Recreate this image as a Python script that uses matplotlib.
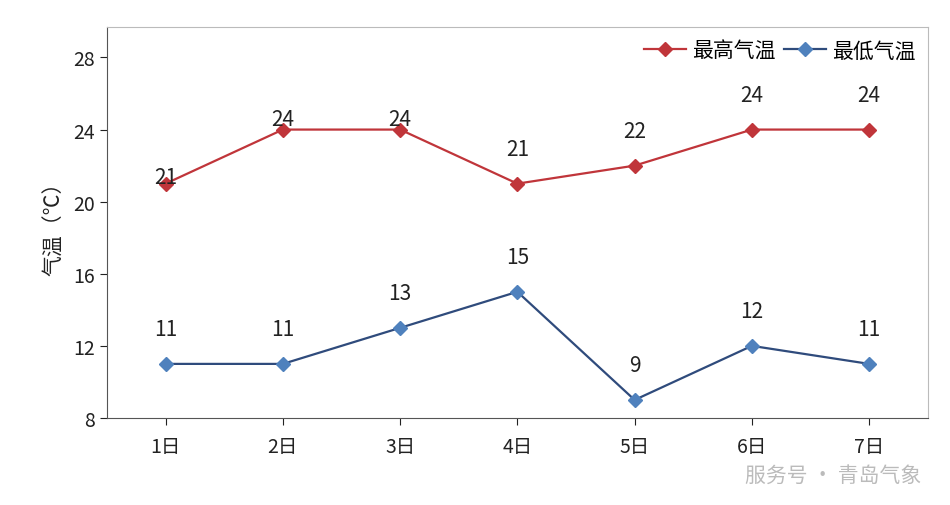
import matplotlib
matplotlib.use("Agg")
import matplotlib.pyplot as plt

plt.rcParams['font.family'] = ['Noto Sans CJK SC', 'DejaVu Sans']

days = ["1日", "2日", "3日", "4日", "5日", "6日", "7日"]
high = [21, 24, 24, 21, 22, 24, 24]
low = [11, 11, 13, 15, 9, 12, 11]
# label offsets (points) above each marker
high_off = [-3, 0, 0, 17, 17, 17, 17]
low_off = [17, 17, 17, 17, 17, 17, 17]

fig = plt.figure(figsize=(9.5, 5.06), dpi=100)
ax = fig.add_axes([0.1126, 0.172, 0.864, 0.773])
x = range(len(days))
ax.plot(x, high, "-D", color="#C0353A", mfc="#C0353A", mec="#C0353A", ms=7, lw=1.6, label="最高气温")
ax.plot(x, low, "-D", color="#2F4B7C", mfc="#4F81BD", mec="#4F81BD", ms=7, lw=1.6, label="最低气温")
for i in x:
    ax.annotate(str(high[i]), (i, high[i]), xytext=(0, high_off[i]), textcoords="offset points",
                ha="center", va="bottom", fontsize=15, color="#222")
    ax.annotate(str(low[i]), (i, low[i]), xytext=(0, low_off[i]), textcoords="offset points",
                ha="center", va="bottom", fontsize=15, color="#222")

ax.set_xlim(-0.5, 6.5)
ax.set_ylim(8, 29.7)
ax.set_yticks([8, 12, 16, 20, 24, 28])
ax.set_xticks(list(x))
ax.set_xticklabels(days)
ax.tick_params(labelsize=14, colors="#222", length=5)
ax.tick_params(axis="x", pad=8)
for s in ["top", "right"]:
    ax.spines[s].set_color("#bbbbbb")
for s in ["left", "bottom"]:
    ax.spines[s].set_color("#555555")
ax.set_ylabel("气温（℃）", fontsize=15, color="#222", labelpad=6)
ax.legend(loc="upper right", frameon=False, fontsize=15, ncol=2, handlelength=2,
          columnspacing=0.4, handletextpad=0.3, borderaxespad=0.2)
fig.text(0.97, 0.06, "服务号 · 青岛气象", ha="right", va="center", fontsize=15, color="#aaaaaa", alpha=0.8)
fig.savefig("out.png", dpi=100)
